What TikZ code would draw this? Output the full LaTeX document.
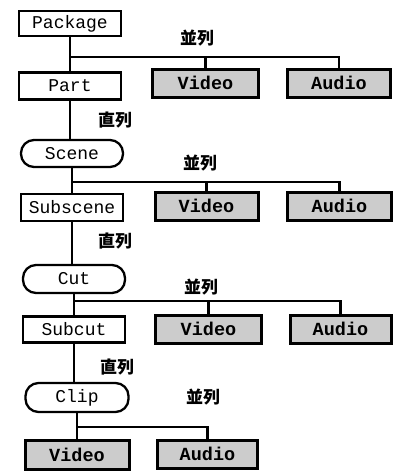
\documentclass[tikz,border=0pt]{standalone}
\usepackage{fontspec}
\setmonofont{Liberation Mono}
\newfontfamily\cjk{Noto Sans CJK JP}
\begin{document}
\begin{tikzpicture}[x=1pt,y=-1pt,
  plainbox/.style={draw,line width=2.3pt,minimum width=102pt,minimum height=27pt,inner sep=0pt,
    font=\ttfamily\fontsize{18}{18}\selectfont},
  roundbox/.style={plainbox,rounded corners=13pt},
  mediabox/.style={draw,line width=3pt,fill=black!20,minimum height=28pt,inner sep=0pt,
    font=\ttfamily\bfseries\fontsize{18.5}{18.5}\selectfont},
  lbl/.style={font=\cjk\bfseries\fontsize{17}{17}\selectfont,inner sep=0pt},
  conn/.style={line width=2.3pt}]
\useasboundingbox (0,0) rectangle (393,472);
% left column
\node[plainbox,minimum height=25pt] (pkg) at (70,23.5) {Package};
\node[plainbox] (part) at (70,86) {Part};
\node[roundbox] (scene) at (72,153.5) {Scene};
\node[plainbox] (subscene) at (72,207.5) {Subscene};
\node[roundbox,minimum height=28pt] (cut) at (74,279) {Cut};
\node[plainbox,minimum height=26pt] (subcut) at (74,329.5) {Subcut};
\node[roundbox,minimum height=29pt,minimum width=103pt] (clip) at (77,397.5) {Clip};
% media boxes
\node[mediabox,minimum width=106pt] (v1) at (205.5,83) {Video};
\node[mediabox,minimum width=103pt] (a1) at (339,83) {Audio};
\node[mediabox,minimum width=103pt] (v2) at (206.5,206) {Video};
\node[mediabox,minimum width=104pt] (a2) at (339.5,206) {Audio};
\node[mediabox,minimum width=106pt] (v3) at (208.5,329) {Video};
\node[mediabox,minimum width=101pt] (a3) at (340.5,329) {Audio};
\node[mediabox,minimum width=104pt,minimum height=29pt] (v4) at (77,454.5) {Video};
\node[mediabox,minimum width=100pt] (a4) at (207.5,454) {Audio};
% labels
\node[lbl] (p1) at (197,38) {並列};
\node[lbl] (s1) at (115,120) {直列};
\node[lbl] (p2) at (200,163) {並列};
\node[lbl] (s2) at (115,241) {直列};
\node[lbl] (p3) at (201,287) {並列};
\node[lbl] (s3) at (117,367) {直列};
\node[lbl] (p4) at (203,397) {並列};
% junctions
\coordinate (j1) at (70,57);
\coordinate (j2) at (72,182);
\coordinate (j3) at (74,301);
\coordinate (j4) at (77,427);
% group 1
\draw[conn] (pkg.south) -- (part.north);
\draw[conn] (j1) -| (a1.north);
\draw[conn] (v1.north |- j1) -- (v1.north);
\draw[conn] (part.south) -- (part.south |- scene.north);
% group 2
\draw[conn] (scene.south) -- (subscene.north);
\draw[conn] (j2) -| (a2.north);
\draw[conn] (v2.north |- j2) -- (v2.north);
\draw[conn] (subscene.south) -- (subscene.south |- cut.north);
% group 3
\draw[conn] (cut.south) -- (subcut.north);
\draw[conn] (j3) -| (a3.north);
\draw[conn] (v3.north |- j3) -- (v3.north);
\draw[conn] (subcut.south) -- (subcut.south |- clip.north);
% group 4
\draw[conn] (clip.south) -- (v4.north);
\draw[conn] (j4) -| (a4.north);
\end{tikzpicture}
\end{document}
